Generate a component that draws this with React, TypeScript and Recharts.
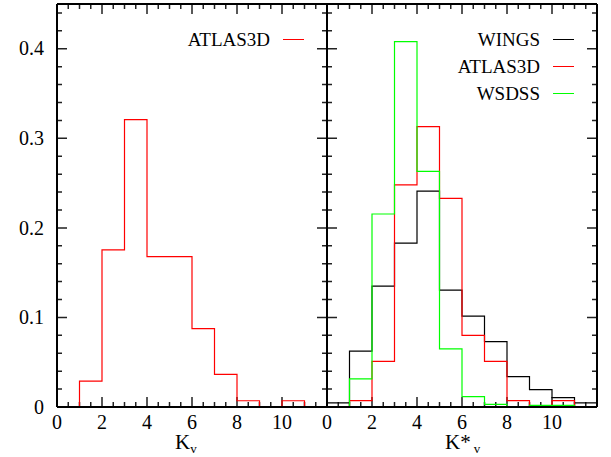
import React from 'react';
import { LineChart, Line, XAxis, YAxis, Legend } from 'recharts';

const FONT = '"Liberation Serif", "DejaVu Serif", serif';

// histogram bin heights, one unit wide bins, starting at the given K
const atlasLeftStart = 1;
const atlasLeft = [0.029, 0.1755, 0.321, 0.168, 0.168, 0.0875, 0.0365, 0.007, 0, 0.007];

const wingsStart = 0;
const wings = [0.0045, 0.0625, 0.135, 0.183, 0.241, 0.1305, 0.1015, 0.073, 0.034, 0.0195, 0.0105, 0.0045];

const atlasRightStart = 1;
const atlasRight = [0.0072, 0.051, 0.248, 0.313, 0.233, 0.08, 0.051, 0.0072, 0, 0.0072];

const wsdssStart = 1;
const wsdss = [0.0315, 0.2155, 0.408, 0.263, 0.065, 0.0115, 0.003, 0, 0.0018, 0.0018];

const leftSeries = [{ name: 'ATLAS3D', color: '#ff0000' }];
const rightSeries = [
  { name: 'WINGS', color: '#000000' },
  { name: 'ATLAS3D', color: '#ff0000' },
  { name: 'WSDSS', color: '#00ff00' },
];

// ticks
const xTicks = [0, 0.5, 1, 1.5, 2, 2.5, 3, 3.5, 4, 4.5, 5, 5.5, 6, 6.5, 7, 7.5, 8, 8.5, 9, 9.5, 10, 10.5, 11, 11.5, 12];
const xMajor = [0, 2, 4, 6, 8, 10, 12];
const xLabels = [0, 2, 4, 6, 8, 10];
const yTicks = [0, 0.02, 0.04, 0.06, 0.08, 0.1, 0.12, 0.14, 0.16, 0.18, 0.2, 0.22, 0.24, 0.26, 0.28, 0.3, 0.32, 0.34, 0.36, 0.38, 0.4, 0.42, 0.44];
const yMajor = [0, 0.1, 0.2, 0.3, 0.4];
const yLabels = ['0', '0.1', '0.2', '0.3', '0.4'];

const X_MAX = 12;
const Y_MAX = 0.45;
const PLOT_W = 270;
const PLOT_H = 403;

// tick lengths in px, turned into data units
const MAJOR = 10;
const MINOR = 5;
const dx = (px: number) => (px * X_MAX) / PLOT_W;
const dy = (px: number) => (px * Y_MAX) / PLOT_H;

const near = (list: number[], v: number) => list.findIndex((l) => Math.abs(l - v) < 1e-6);

// turn bin heights into stepAfter points
const toSteps = (values: number[], start: number) => {
  const pts = [{ k: start, f: 0 }];
  values.forEach((v, i) => pts.push({ k: start + i, f: v }));
  pts.push({ k: start + values.length, f: 0 });
  return pts;
};

// inward tick marks as short segments separated by gaps (null)
type Pt = { k: number; f: number | null };
const tickPath = (side: 'b' | 't' | 'l' | 'r') => {
  const pts: Pt[] = [];
  if (side === 'b' || side === 't') {
    xTicks.forEach((v) => {
      const h = dy(near(xMajor, v) >= 0 ? MAJOR : MINOR);
      const y0 = side === 'b' ? 0 : Y_MAX;
      const y1 = side === 'b' ? h : Y_MAX - h;
      pts.push({ k: v, f: y0 }, { k: v, f: y1 }, { k: v, f: null });
    });
  } else {
    yTicks.forEach((v) => {
      const w = dx(near(yMajor, v) >= 0 ? MAJOR : MINOR);
      const x0 = side === 'l' ? 0 : X_MAX;
      const x1 = side === 'l' ? w : X_MAX - w;
      pts.push({ k: x0, f: v }, { k: x1, f: v }, { k: x1, f: null });
    });
  }
  return pts;
};

const tickLines = () =>
  (['b', 't', 'l', 'r'] as const).map((s) => (
    <Line
      key={`tick-${s}`}
      data={tickPath(s)}
      dataKey="f"
      type="linear"
      stroke="#222"
      strokeWidth={1.5}
      dot={false}
      activeDot={false}
      legendType="none"
      connectNulls={false}
      isAnimationActive={false}
    />
  ));

const BottomLabel = (props: any) => {
  const v = props.payload.value;
  if (near(xLabels, v) < 0) return <g />;
  return (
    <text x={props.x} y={Number(props.y) + 22} textAnchor="middle" fontSize={20} fontFamily={FONT} fill="#000">
      {v}
    </text>
  );
};

const LeftLabel = (props: any) => {
  const idx = near(yMajor, props.payload.value);
  if (!props.showLabels || idx < 0) return <g />;
  return (
    <text x={Number(props.x) - 13} y={Number(props.y) + 6.7} textAnchor="end" fontSize={20} fontFamily={FONT} fill="#000">
      {yLabels[idx]}
    </text>
  );
};

const KTitle = ({ viewBox, star }: any) => (
  <text x={viewBox.x + 118} y={viewBox.y + 42} fontSize={21} fontFamily={FONT} fill="#000">
    <tspan>K</tspan>
    {star && <tspan>*</tspan>}
    <tspan dx={star ? 3 : 0} dy={4} fontSize={13}>v</tspan>
  </text>
);

const LegendBox = ({ items }: { items: { name: string; color: string }[] }) => (
  <div style={{ fontFamily: FONT, fontSize: 19, color: '#000' }}>
    {items.map((item) => (
      <div
        key={item.name}
        style={{ display: 'flex', justifyContent: 'flex-end', alignItems: 'center', height: 27, lineHeight: '27px' }}
      >
        <span>{item.name}</span>
        <span style={{ display: 'inline-block', width: 21, height: 1.5, marginLeft: 13, background: item.color }} />
      </div>
    ))}
  </div>
);

const frame = { stroke: '#000', strokeWidth: 2 };

// frame of one panel: labelled bottom/left axes, plain top/right lines
const panelAxes = (labels: boolean, star: boolean, yWidth: number) => [
  <XAxis
    key="xb"
    dataKey="k"
    type="number"
    domain={[0, X_MAX]}
    ticks={xTicks}
    interval={0}
    height={50}
    tickSize={0}
    tickMargin={0}
    tickLine={false}
    axisLine={frame}
    tick={(p: any) => <BottomLabel {...p} />}
    label={(p: any) => <KTitle {...p} star={star} />}
    allowDataOverflow
  />,
  <XAxis
    key="xt"
    xAxisId="t"
    orientation="top"
    type="number"
    domain={[0, X_MAX]}
    height={1}
    tickLine={false}
    axisLine={frame}
    tick={false}
  />,
  <YAxis
    key="yl"
    type="number"
    domain={[0, Y_MAX]}
    ticks={yTicks}
    interval={0}
    width={yWidth}
    tickSize={0}
    tickMargin={0}
    tickLine={false}
    axisLine={frame}
    tick={(p: any) => <LeftLabel {...p} showLabels={labels} />}
    allowDataOverflow
  />,
  <YAxis
    key="yr"
    yAxisId="r"
    orientation="right"
    type="number"
    domain={[0, Y_MAX]}
    width={1}
    tickLine={false}
    axisLine={frame}
    tick={false}
  />,
];

const stepLine = (name: string, values: number[], start: number, color: string) => (
  <Line
    key={name}
    name={name}
    data={toSteps(values, start)}
    dataKey="f"
    type="stepAfter"
    stroke={color}
    strokeWidth={1.2}
    dot={false}
    activeDot={false}
    isAnimationActive={false}
  />
);

const App = () => (
  <div style={{ position: 'absolute', left: 0, top: 0, width: 611, height: 457, background: '#fff' }}>
    <div style={{ position: 'absolute', left: 0, top: 0 }}>
      <LineChart width={340} height={457} margin={{ top: 3, right: 12, bottom: 0, left: 0 }}>
        {panelAxes(true, false, 57)}
        {tickLines()}
        {stepLine('ATLAS3D', atlasLeft, atlasLeftStart, '#ff0000')}
        <Legend
          layout="horizontal"
          verticalAlign="middle"
          align="center"
          wrapperStyle={{ left: 0, top: 26, width: 304 }}
          content={() => <LegendBox items={leftSeries} />}
        />
      </LineChart>
    </div>
    <div style={{ position: 'absolute', left: 320, top: 0 }}>
      <LineChart width={291} height={457} margin={{ top: 3, right: 13, bottom: 0, left: 6 }}>
        {panelAxes(false, true, 1)}
        {tickLines()}
        {stepLine('WINGS', wings, wingsStart, '#000000')}
        {stepLine('ATLAS3D', atlasRight, atlasRightStart, '#ff0000')}
        {stepLine('WSDSS', wsdss, wsdssStart, '#00ff00')}
        <Legend
          layout="horizontal"
          verticalAlign="middle"
          align="center"
          wrapperStyle={{ left: 0, top: 26, width: 254 }}
          content={() => <LegendBox items={rightSeries} />}
        />
      </LineChart>
    </div>
  </div>
);

export default App;
